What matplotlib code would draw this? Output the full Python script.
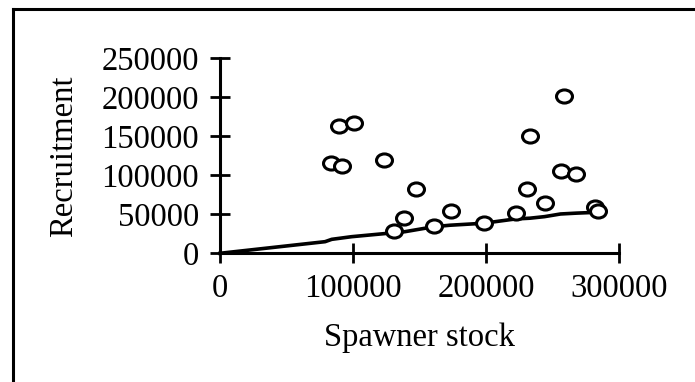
import matplotlib
matplotlib.use("Agg")
import matplotlib.pyplot as plt
import numpy as np
from matplotlib.path import Path
from matplotlib.lines import Line2D

# Data
spawner = [83100, 91400, 89300, 100600, 123400, 147100, 138600, 130600, 160700,
           173400, 198200, 222200, 231200, 233000, 244200, 259000, 256200, 267800,
           281800, 284000]
recruit = [115400, 112000, 163600, 166700, 119600, 82000, 45600, 28600, 35400,
           54600, 38500, 52100, 82000, 150000, 64900, 201700, 105500, 101700,
           59800, 54600]
fit_x = [0, 79000, 84000, 99000, 126000, 139000, 161000, 173000, 198000, 222000,
         233000, 244000, 256000, 268000, 284000]
fit_y = [0, 14900, 17900, 21300, 25600, 27700, 34100, 36000, 38500, 44000,
         45000, 47000, 50400, 51500, 52600]
xticks = [0, 100000, 200000, 300000]
yticks = [0, 50000, 100000, 150000, 200000, 250000]

plt.rcParams['font.family'] = ['Liberation Serif', 'DejaVu Serif']

W, H = 695, 382
fig = plt.figure(figsize=(W / 100, H / 100), dpi=100)

# frame: top and left lines
fig.add_artist(Line2D([13.5 / W, 13.5 / W], [0, 1 - 8.5 / H], transform=fig.transFigure,
                      color='black', lw=2.2))
fig.add_artist(Line2D([12.5 / W, 1], [1 - 8.5 / H, 1 - 8.5 / H], transform=fig.transFigure,
                      color='black', lw=2.2))

ax = fig.add_axes([220 / W, (H - 253.3) / H, (619 - 220) / W, (253.3 - 58.3) / H])
ax.set_xlim(0, 300000)
ax.set_ylim(0, 250000)

# elliptical open marker
circ = Path.unit_circle()
verts = circ.vertices * np.array([1.0, 0.82])
ell = Path(verts, circ.codes)

ax.plot(fit_x, fit_y, color='black', lw=2.6, clip_on=False, zorder=2)
ax.plot(spawner, recruit, linestyle='none', marker=ell, markersize=11.5,
        markerfacecolor='white', markeredgecolor='black', markeredgewidth=2.2,
        clip_on=False, zorder=3)

for s in ['top', 'right']:
    ax.spines[s].set_visible(False)
for s in ['left', 'bottom']:
    ax.spines[s].set_linewidth(2.2)

ax.set_xticks(xticks)
ax.set_yticks(yticks)
ax.set_xticklabels([str(v) for v in xticks])
ax.set_yticklabels([str(v) for v in yticks])
ax.tick_params(axis='both', direction='inout', length=14.4, width=2.0,
               labelsize=23.5, colors='black')
ax.tick_params(axis='y', pad=8)
ax.tick_params(axis='x', pad=7)

ax.set_xlabel('Spawner stock', fontsize=23.5, labelpad=14)
ax.set_ylabel('Recruitment', fontsize=23.5, labelpad=16)

fig.savefig('out.png', dpi=100)
